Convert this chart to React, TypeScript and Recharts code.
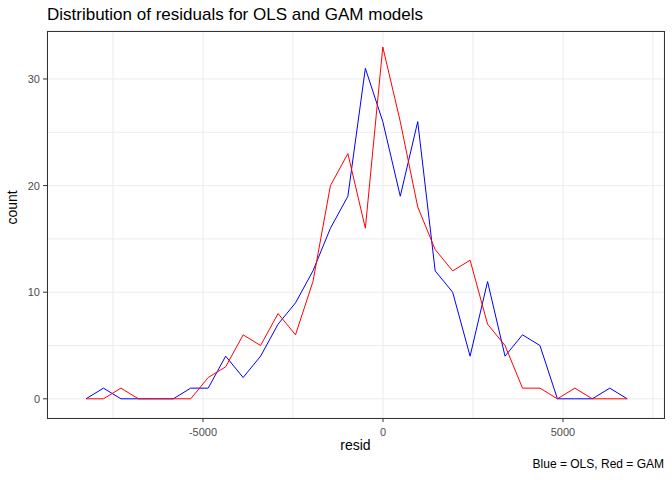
import { LineChart, Line, XAxis, YAxis, CartesianGrid } from "recharts"

const binStart = -8250
const binWidth = 485
const olsCounts = [0, 1, 0, 0, 0, 0, 1, 1, 4, 2, 4, 7, 9, 12, 16, 19, 31, 26, 19, 26, 12, 10, 4, 11, 4, 6, 5, 0, 0, 0, 1, 0]
const gamCounts = [0, 0, 1, 0, 0, 0, 0, 2, 3, 6, 5, 8, 6, 11, 20, 23, 16, 33, 26, 18, 14, 12, 13, 7, 5, 1, 1, 0, 1, 0, 0, 0]
const xTicks = [-7500, -5000, -2500, 0, 2500, 5000, 7500]
const xLabels = [-5000, 0, 5000]
const yTicks = [0, 5, 10, 15, 20, 25, 30]
const yLabels = [0, 10, 20, 30]

const data = olsCounts.map((c, i) => ({
  resid: binStart + i * binWidth,
  ols: c,
  gam: gamCounts[i],
}))

const font = "'Liberation Sans', Arial, sans-serif"

function XTick(props: any) {
  const { x, y, payload } = props
  if (!xLabels.includes(payload.value)) return null
  return (
    <g>
      <line x1={x} x2={x} y1={y - 8} y2={y - 4} stroke="#333" />
      <text x={x} y={y + 10} textAnchor="middle" fontSize={11} fill="#4d4d4d" fontFamily={font}>
        {payload.value}
      </text>
    </g>
  )
}

function YTick(props: any) {
  const { x, y, payload } = props
  if (!yLabels.includes(payload.value)) return null
  return (
    <g>
      <line x1={x + 4} x2={x + 8} y1={y} y2={y} stroke="#333" />
      <text x={x + 1} y={y + 4} textAnchor="end" fontSize={11} fill="#4d4d4d" fontFamily={font}>
        {payload.value}
      </text>
    </g>
  )
}

export default function App() {
  return (
    <div style={{ position: "absolute", left: 0, top: 0, width: 672, height: 480, background: "#fff", fontFamily: font }}>
      <LineChart width={672} height={480} data={data} margin={{ top: 31, right: 8, bottom: 0, left: 0 }}>
        <CartesianGrid stroke="#ebebeb" strokeWidth={1} />
        <XAxis
          dataKey="resid"
          type="number"
          domain={[-9333, 7806]}
          ticks={xTicks}
          height={62}
          tick={<XTick />}
          tickLine={false}
          axisLine={false}
          allowDataOverflow
          label={{ value: "resid", position: "insideTop", offset: 22, fontSize: 14, fill: "#000", fontFamily: font }}
        />
        <YAxis
          type="number"
          domain={[-1.8, 34.5]}
          ticks={yTicks}
          width={47}
          tick={<YTick />}
          tickLine={false}
          axisLine={false}
          allowDataOverflow
          label={{ value: "count", angle: -90, position: "insideLeft", offset: 12, fontSize: 14, fill: "#000", fontFamily: font }}
        />
        <Line dataKey="ols" stroke="#0000ff" strokeWidth={1} dot={false} type="linear" isAnimationActive={false} />
        <Line dataKey="gam" stroke="#ff0000" strokeWidth={1} dot={false} type="linear" isAnimationActive={false} />
      </LineChart>
      <div style={{ position: "absolute", left: 47, top: 31, width: 616, height: 386, border: "1px solid #333", pointerEvents: "none" }} />
      <div style={{ position: "absolute", left: 47, top: 5, fontSize: 17, color: "#000" }}>
        Distribution of residuals for OLS and GAM models
      </div>
      <div style={{ position: "absolute", right: 8, top: 457, fontSize: 12, color: "#000" }}>
        Blue = OLS, Red = GAM
      </div>
    </div>
  )
}
